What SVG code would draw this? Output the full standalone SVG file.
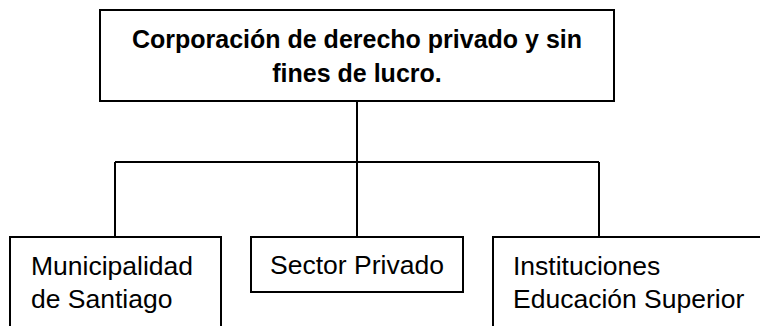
<svg xmlns="http://www.w3.org/2000/svg" width="760" height="326" viewBox="0 0 760 326">
<style>
.box{fill:#fff;stroke:#000;stroke-width:2}
.ln{fill:none;stroke:#000;stroke-width:2}
.t{font-family:"Liberation Sans",Arial,sans-serif;font-size:26.5px;fill:#000}
.b{font-family:"Liberation Sans",Arial,sans-serif;font-size:25px;font-weight:bold;fill:#000}
</style>
<rect width="760" height="326" fill="#fff"/>
<g id="connectors">
<path class="ln" d="M357 101V237M115 162H599M115 162V237M599 162V237"/>
</g>
<g id="top">
<rect class="box" x="100" y="10" width="514" height="91"/>
<text class="b" x="357" y="48" text-anchor="middle">Corporación de derecho privado y sin</text>
<text class="b" x="357" y="82" text-anchor="middle">fines de lucro.</text>
</g>
<g id="municipalidad">
<rect class="box" x="10" y="237" width="211" height="100"/>
<text class="t" x="31" y="275">Municipalidad</text>
<text class="t" x="31" y="308">de Santiago</text>
</g>
<g id="sector">
<rect class="box" x="251" y="237" width="212" height="55"/>
<text class="t" x="357" y="274" text-anchor="middle">Sector Privado</text>
</g>
<g id="instituciones">
<rect class="box" x="493" y="237" width="280" height="100"/>
<text class="t" x="513" y="275">Instituciones</text>
<text class="t" x="513" y="308">Educación Superior</text>
</g>
</svg>
